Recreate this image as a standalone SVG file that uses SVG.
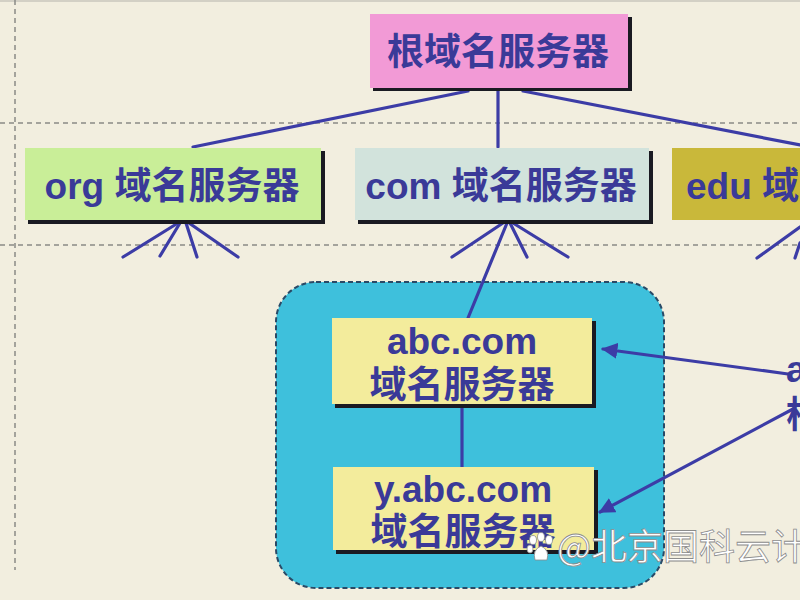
<svg xmlns="http://www.w3.org/2000/svg" width="800" height="600" viewBox="0 0 800 600">
<defs>
<style>
.lbl{font-family:"Liberation Sans","Noto Sans CJK SC",sans-serif;font-weight:bold;font-size:37px;fill:#3a3a98;text-anchor:middle}
.shadow{fill:#1a1a22}
.guide{stroke:#8a8a86;stroke-width:1.5;stroke-dasharray:5 4;fill:none}
.conn{stroke:#3c3ca6;stroke-width:3.2;fill:none;stroke-linecap:round}
.wm{font-family:"Noto Sans CJK SC","Liberation Sans",sans-serif;font-size:36px;fill:#ffffff;stroke:#8c8c8c;stroke-width:0.8}
</style>
<marker id="arr" viewBox="0 0 10 10" refX="9" refY="5" markerWidth="5" markerHeight="5" orient="auto-start-reverse">
<path d="M0,0 L10,5 L0,10 z" fill="#3c3ca6"/>
</marker>
</defs>
<rect x="0" y="0" width="800" height="600" fill="#f2eedf"/>
<line x1="0" y1="1" x2="800" y2="1" stroke="#c8c6bc" stroke-width="1.5"/>
<g id="guides">
<line class="guide" x1="15" y1="0" x2="15" y2="570"/>
<line class="guide" x1="0" y1="123" x2="800" y2="123"/>
<line class="guide" x1="0" y1="245" x2="800" y2="245"/>
</g>
<g id="container">
<rect x="276" y="282" width="388" height="306" rx="40" ry="40" fill="#3ec0dc" stroke="#2a4a66" stroke-width="2" stroke-dasharray="5 3"/>
</g>
<g id="connectors">
<line class="conn" x1="468" y1="91" x2="193" y2="147"/>
<line class="conn" x1="498" y1="91" x2="498" y2="147"/>
<line class="conn" x1="523" y1="91" x2="800" y2="145"/>
<line class="conn" x1="178" y1="223" x2="123" y2="257"/>
<line class="conn" x1="180" y1="223" x2="160" y2="256"/>
<line class="conn" x1="186" y1="223" x2="197" y2="257"/>
<line class="conn" x1="189" y1="223" x2="238" y2="257"/>
<line class="conn" x1="503" y1="223" x2="452" y2="257"/>
<line class="conn" x1="507" y1="223" x2="468" y2="318"/>
<line class="conn" x1="510" y1="223" x2="527" y2="257"/>
<line class="conn" x1="513" y1="223" x2="568" y2="257"/>
<line class="conn" x1="800" y1="227" x2="757" y2="258"/>
<line class="conn" x1="800" y1="243" x2="795" y2="258"/>
<line class="conn" x1="462" y1="406" x2="462" y2="467"/>
<line class="conn" x1="788" y1="374" x2="603" y2="349" marker-end="url(#arr)"/>
<line class="conn" x1="793" y1="409" x2="600" y2="512" marker-end="url(#arr)"/>
</g>
<g id="root">
<rect class="shadow" x="373" y="17" width="259" height="74"/>
<rect x="370" y="14" width="258" height="74" fill="#f29ad6"/>
<text class="lbl" x="498" y="65">根域名服务器</text>
</g>
<g id="org">
<rect class="shadow" x="28" y="151" width="297" height="73"/>
<rect x="25" y="148" width="296" height="72" fill="#c9ee98"/>
<text class="lbl" x="172" y="199">org 域名服务器</text>
</g>
<g id="com">
<rect class="shadow" x="358" y="151" width="295" height="73"/>
<rect x="355" y="148" width="294" height="72" fill="#d2e3dc"/>
<text class="lbl" x="501" y="199">com 域名服务器</text>
</g>
<g id="edu">
<rect x="672" y="148" width="140" height="72" fill="#c9b83a"/>
<text class="lbl" x="686" y="199" style="text-anchor:start">edu 域名服务器</text>
</g>
<g id="abc">
<rect class="shadow" x="335" y="321" width="261" height="87"/>
<rect x="332" y="318" width="260" height="86" fill="#f3ec9c"/>
<text class="lbl" x="462" y="354">abc.com</text>
<text class="lbl" x="462" y="398">域名服务器</text>
</g>
<g id="yabc">
<rect class="shadow" x="336" y="470" width="262" height="84"/>
<rect x="333" y="467" width="261" height="83" fill="#f3ec9c"/>
<text class="lbl" x="463" y="502">y.abc.com</text>
<text class="lbl" x="463" y="545">域名服务器</text>
</g>
<g id="right-partial">
<text class="lbl" x="786" y="382" style="text-anchor:start">a</text>
<text class="lbl" x="786" y="428" style="text-anchor:start">根</text>
</g>
<g id="watermark">
<g fill="#ffffff" stroke="#8c8c8c" stroke-width="0.8">
<ellipse cx="533" cy="540" rx="3.5" ry="4.5"/>
<ellipse cx="541" cy="537" rx="3.5" ry="4.5"/>
<ellipse cx="549" cy="540" rx="3.5" ry="4.5"/>
<ellipse cx="530" cy="549" rx="3" ry="4"/>
<path d="M535,560 Q532,550 541,546 Q550,550 547,560 Z"/>
</g>
<text class="wm" x="557" y="560">@北京国科云计</text>
</g>
</svg>
